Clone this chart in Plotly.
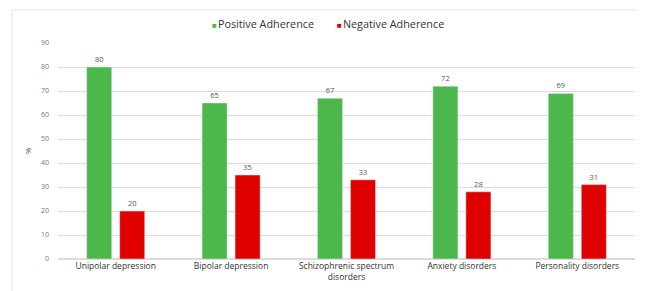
import plotly.graph_objects as go

categories = ["Unipolar depression", "Bipolar depression", "Schizophrenic spectrum<br>disorders",
              "Anxiety disorders", "Personality disorders"]
positive = [80, 65, 67, 72, 69]
negative = [20, 35, 33, 28, 31]
series_names = ["Positive Adherence", "Negative Adherence"]
colors = ["#4cb84c", "#e00000"]
legend_x = [0.264, 0.480]

fig = go.Figure()
for name, vals, col in zip(series_names, [positive, negative], colors):
    fig.add_trace(go.Bar(name=name, x=categories, y=vals, marker_color=col,
                         text=vals, textposition="outside",
                         textfont=dict(size=7.5, color="#555"),
                         cliponaxis=False, showlegend=False))

# legend drawn as text entries
for name, col, lx in zip(series_names, colors, legend_x):
    fig.add_annotation(xref="paper", yref="paper", x=lx, y=1.088, xanchor="left", yanchor="middle",
                       showarrow=False,
                       text=f"<span style='color:{col}; font-size:8px'>■</span><span style='font-size:4px'> </span>{name}",
                       font=dict(size=10.8, color="#333"))

fig.update_layout(
    width=637, height=283,
    margin=dict(l=50, r=10, t=35, b=32, autoexpand=False),
    paper_bgcolor="white", plot_bgcolor="white",
    barmode="group", bargap=0.428, bargroupgap=0.24,
    font=dict(family="Open Sans, Liberation Sans, sans-serif", size=9, color="#444"),
    showlegend=False,
)
fig.update_yaxes(range=[0, 90], dtick=10, showgrid=True, gridcolor="#dcdcdc", gridwidth=1,
                 zeroline=True, zerolinecolor="#dcdcdc", tickfont=dict(size=7, color="#777"),
                 ticks="", ticklabelstandoff=8, automargin=False,
                 title=dict(text="%", font=dict(size=8, color="#555"), standoff=8))
fig.update_xaxes(tickfont=dict(size=8.5, color="#333"), showline=False, ticks="", automargin=False)
fig.add_shape(type="rect", xref="paper", yref="paper", x0=-0.0797, x1=1.0087, y0=-0.2, y1=1.153,
              line=dict(color="#e3e3e3", width=1), fillcolor="rgba(0,0,0,0)", layer="below")
fig.write_html("out.html")
